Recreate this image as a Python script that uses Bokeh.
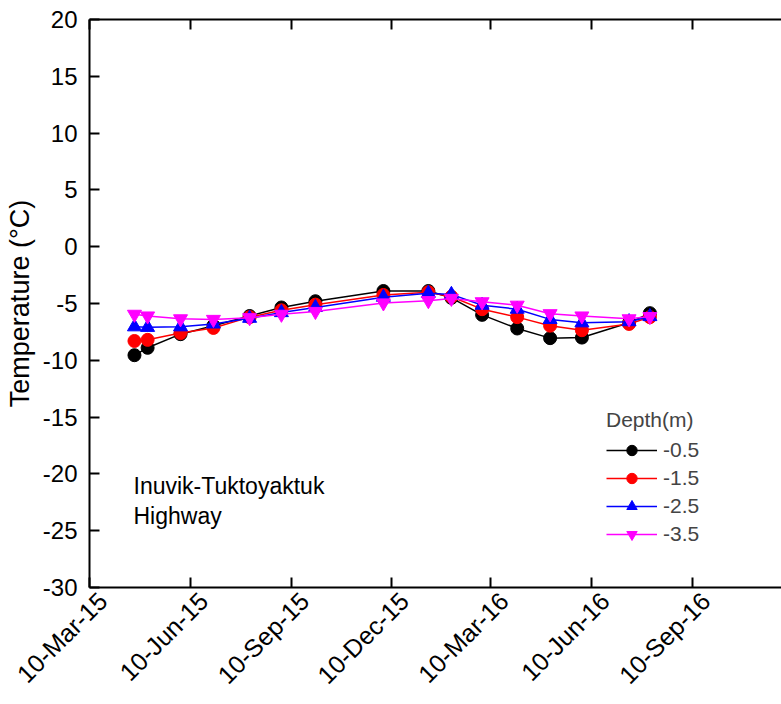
import pandas as pd
from bokeh.plotting import figure
from bokeh.models import (Range1d, FixedTicker, DatetimeAxis, Legend, LegendItem,
                          Label, ColumnDataSource, CustomJSTickFormatter,
                          PrintfTickFormatter)
from bokeh.embed import file_html
from bokeh.resources import INLINE

# ---- data ----
dates = ["2015-04-20", "2015-05-02", "2015-06-01", "2015-07-01", "2015-08-03",
         "2015-09-01", "2015-10-02", "2015-12-03", "2016-01-13", "2016-02-03",
         "2016-03-02", "2016-04-03", "2016-05-03", "2016-06-01", "2016-07-14",
         "2016-08-02"]
depth_labels = ["-0.5", "-1.5", "-2.5", "-3.5"]
temp_d05 = [-9.55, -8.9, -7.7, -6.95, -6.1, -5.35, -4.8, -3.9, -3.9, -4.5,
            -6.0, -7.2, -8.05, -8.0, -6.7, -5.85]
temp_d15 = [-8.3, -8.2, -7.6, -7.15, -6.2, -5.6, -5.1, -4.25, -4.0, -4.4,
            -5.5, -6.2, -6.95, -7.35, -6.8, -6.2]
temp_d25 = [-7.05, -7.1, -7.05, -6.8, -6.3, -5.8, -5.35, -4.45, -4.1, -4.2,
            -5.15, -5.5, -6.4, -6.7, -6.6, -6.15]
temp_d35 = [-5.95, -6.1, -6.35, -6.4, -6.25, -5.95, -5.7, -4.95, -4.75, -4.55,
            -4.85, -5.15, -5.9, -6.1, -6.35, -6.15]
tick_dates = ["2015-03-10", "2015-06-10", "2015-09-10", "2015-12-10",
              "2016-03-10", "2016-06-10", "2016-09-10"]
tick_labels = ["10-Mar-15", "10-Jun-15", "10-Sep-15", "10-Dec-15",
               "10-Mar-16", "10-Jun-16", "10-Sep-16"]
y_ticks = [-30, -25, -20, -15, -10, -5, 0, 5, 10, 15, 20]
x_start, x_end = "2015-03-10", "2016-11-30"
y_start, y_end = -30, 20
site_lines = ["Inuvik-Tuktoyaktuk", "Highway"]
y_label = "Temperature (\u00b0C)"
legend_title = "Depth(m)"

FONT = "Liberation Sans"
LABEL_SHIFT_MS = 12 * 86400000  # visual offset of rotated date labels

p = figure(width=781, height=704, x_axis_type="datetime",
           x_range=Range1d(pd.Timestamp(x_start), pd.Timestamp(x_end)),
           y_range=Range1d(y_start, y_end),
           output_backend="svg", toolbar_location=None,
           min_border_left=89, min_border_right=0, min_border_top=19,
           min_border_bottom=117)
p.outline_line_color = None
p.xgrid.visible = False
p.ygrid.visible = False
p.background_fill_color = "white"
p.border_fill_color = "white"

tick_ms = [pd.Timestamp(d).value / 1e6 for d in tick_dates]
x_ticker = FixedTicker(ticks=tick_ms)
blank_fmt = CustomJSTickFormatter(code="return '';")

def style_axis(ax):
    ax.axis_line_width = 2
    ax.axis_line_color = "black"
    ax.major_tick_line_width = 2
    ax.major_tick_line_color = "black"
    ax.major_tick_in = 10
    ax.major_tick_out = 0
    ax.minor_tick_line_color = None
    ax.major_label_text_font = FONT
    ax.major_label_text_font_size = "24px"
    ax.major_label_text_color = "black"

# bottom axis: line + inward ticks
xa = p.xaxis[0]
xa.ticker = x_ticker
xa.formatter = blank_fmt
style_axis(xa)
xa.major_label_standoff = 0

# bottom date labels (rotated), via a second below axis
xlab = DatetimeAxis(ticker=FixedTicker(ticks=[t + LABEL_SHIFT_MS for t in tick_ms]),
                    formatter=CustomJSTickFormatter(args=dict(labels=tick_labels),
                                                    code="return labels[index];"))
xlab.axis_line_color = None
xlab.major_tick_line_color = None
xlab.minor_tick_line_color = None
xlab.major_tick_in = 0
xlab.major_tick_out = 0
xlab.major_label_text_font = FONT
xlab.major_label_text_font_size = "25px"
xlab.major_label_text_color = "black"
xlab.major_label_orientation = 0.785398
xlab.major_label_standoff = 9
p.add_layout(xlab, "below")

ya = p.yaxis[0]
ya.ticker = FixedTicker(ticks=y_ticks)
ya.formatter = PrintfTickFormatter(format="%d")
style_axis(ya)
ya.major_label_standoff = 12
ya.axis_label = y_label
ya.axis_label_text_font = FONT
ya.axis_label_text_font_size = "27px"
ya.axis_label_text_font_style = "normal"
ya.axis_label_text_color = "black"
ya.axis_label_standoff = 5

top = DatetimeAxis(ticker=x_ticker, formatter=blank_fmt)
style_axis(top)
top.major_label_standoff = 0
p.add_layout(top, "above")

src = ColumnDataSource(dict(date=pd.to_datetime(dates), d05=temp_d05, d15=temp_d15,
                            d25=temp_d25, d35=temp_d35))

series = [("d05", "black", "circle", 13),
          ("d15", "#FF0000", "circle", 13),
          ("d25", "#0000FF", "triangle", 14),
          ("d35", "#FF00FF", "inverted_triangle", 14)]
items = []
for (col, color, marker, size), lab in zip(series, depth_labels):
    lr = p.line("date", col, source=src, line_color=color, line_width=1.5)
    sr = p.scatter("date", col, source=src, marker=marker, size=size,
                   fill_color=color, line_color=color)
    items.append(LegendItem(label=lab, renderers=[lr, sr]))

legend = Legend(items=items, title=legend_title, location=(517, 40),
                title_text_font=FONT, title_text_font_size="21px",
                title_text_font_style="normal", title_standoff=5,
                label_text_font=FONT, label_text_font_size="21px",
                glyph_width=51, glyph_height=26, label_height=26,
                label_standoff=6, spacing=2, padding=0, margin=0,
                border_line_color=None, background_fill_alpha=0)
p.add_layout(legend)

for txt, yy in zip(site_lines, [102, 72]):
    p.add_layout(Label(x=44, y=yy, x_units="screen", y_units="screen", text=txt,
                       text_font=FONT, text_font_size="23px",
                       text_baseline="alphabetic", text_color="black"))

open("out.html", "w").write(file_html(p, INLINE))
